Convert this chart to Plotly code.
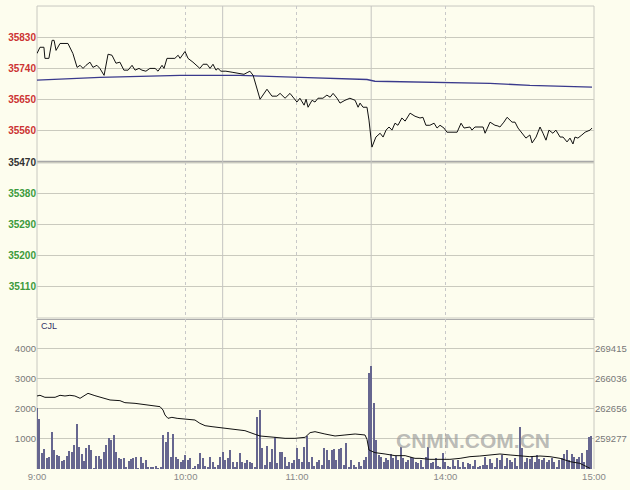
import plotly.graph_objects as go

# ---------------- data ----------------
prev_close = 35470

# session minutes since 9:00 (sessions 9:00-10:15, 10:30-11:30, 13:30-15:00 joined)
price_t = [0, 1.2, 2.8, 3.2, 4.8, 6.1, 6.9, 7.7, 9.3, 12.5, 14.5, 16.2, 17.4, 18.6, 19.8, 21.4, 22.6, 24.2,
           25.4, 27.1, 28.7, 30.3, 31.9, 33.5, 35.1, 36.8, 38.4, 39.6, 41.2, 42.4, 44.0, 45.6, 47.7, 48.9,
           50.5, 51.3, 52.5, 55.7, 57.0, 57.8, 59.8, 61.0, 63.0, 64.6, 65.8, 67.1, 68.7, 69.9, 71.1, 72.3,
           73.1, 74.3, 76.3, 78.8, 81.2, 83.6, 85.2, 86.0, 87.3, 90.1, 92.9, 94.9, 96.9, 98.2, 100.2, 102.2,
           105.0, 106.2, 107.9, 108.7, 109.5, 111.1, 112.3, 113.5, 115.5, 117.1, 118.4, 119.6, 121.2, 122.4,
           124.4, 126.4, 128.5, 129.7, 130.5, 131.7, 133.3, 134.1, 135.3, 136.9, 138.6, 139.8, 141.0, 142.2,
           143.4, 144.6, 145.8, 147.4, 148.7, 150.7, 152.7, 154.7, 155.9, 157.1, 158.7, 160.4, 161.6, 162.8,
           164.4, 165.6, 169.7, 171.3, 172.5, 174.9, 175.7, 176.9, 180.2, 181.0, 183.0, 185.0, 186.2, 187.0,
           188.6, 189.9, 191.9, 193.1, 194.3, 195.9, 197.5, 199.1, 200.0, 201.6, 203.2, 204.4, 205.6, 206.8,
           208.4, 209.6, 211.3, 212.5, 214.1, 215.3, 216.5, 217.3, 218.5, 220.1, 221.4, 223.4, 224.2]
price = [35783, 35801, 35801, 35769, 35769, 35821, 35821, 35792, 35812, 35812, 35783, 35743, 35749, 35740,
         35749, 35758, 35743, 35749, 35740, 35720, 35781, 35778, 35755, 35758, 35735, 35735, 35749, 35735,
         35740, 35735, 35732, 35740, 35740, 35732, 35749, 35740, 35769, 35769, 35778, 35769, 35789, 35769,
         35758, 35749, 35740, 35752, 35752, 35740, 35752, 35735, 35740, 35732, 35732, 35729, 35726, 35723,
         35729, 35732, 35720, 35651, 35680, 35660, 35660, 35668, 35654, 35668, 35643, 35654, 35634, 35651,
         35628, 35648, 35643, 35654, 35654, 35663, 35657, 35668, 35654, 35640, 35648, 35654, 35648, 35628,
         35640, 35628, 35628, 35591, 35513, 35542, 35553, 35542, 35562, 35571, 35562, 35582, 35576, 35597,
         35588, 35611, 35602, 35597, 35599, 35576, 35576, 35582, 35568, 35576, 35568, 35556, 35556, 35582,
         35568, 35571, 35562, 35571, 35571, 35553, 35585, 35576, 35574, 35571, 35585, 35599, 35585, 35585,
         35568, 35553, 35539, 35548, 35525, 35542, 35571, 35553, 35533, 35562, 35553, 35562, 35542, 35542,
         35528, 35539, 35522, 35542, 35539, 35548, 35556, 35562, 35568]

avg_t = [0, 25.4, 57.8, 82.0, 106.2, 126.4, 133.3, 136.5, 158.7, 183.0, 199.1, 211.3, 224.2]
avg_price = [35706, 35714, 35720, 35720, 35714, 35711, 35708, 35703, 35700, 35697, 35691, 35689, 35686]

# volume per minute (minute 0 .. 224)
vol = [2040, 1670, 545, 655, 355, 410, 1245, 633, 467, 433, 267, 300, 433, 610, 578, 800, 1500, 745, 490, 267,
       690, 800, 633, 45, 433, 433, 333, 555, 800, 1022, 967, 1133, 578, 378, 322, 355, 78, 255, 322, 355,
       410, 45, 390, 190, 300, 78, 55, 78, 100, 45, 78, 1133, 910, 1245, 410, 1167, 410, 345,
       244, 300, 467, 300, 378, 22, 100, 155, 544, 355, 100, 78, 411, 244, 78, 133, 411, 567, 300, 355,
       633, 244, 78, 244, 544, 244, 189, 300, 244, 211, 78, 1744, 1967, 689, 133, 767, 244, 656, 1078,
       189, 567, 567, 411, 100, 244, 189, 300, 689, 322, 244, 744, 1100, 244, 389, 100, 244, 300, 133,
       689, 633, 300, 633, 656, 300, 656, 689, 133, 878, 78, 300, 133, 78, 244, 100, 300, 389,
       3189, 3433, 2189, 967, 467, 411, 244, 355, 300, 500, 355, 433, 300, 744, 355, 244, 300, 411, 355,
       244, 189, 300, 78, 389, 744, 189, 244, 355, 100, 78, 544, 244, 100, 78, 300, 100, 300, 78, 244,
       78, 211, 167, 100, 300, 78, 100, 133, 411, 133, 322, 189, 78, 355, 300, 467, 100, 355, 300, 244,
       355, 100, 1411, 689, 244, 355, 322, 411, 244, 467, 322, 300, 355, 244, 300, 355, 244, 78, 300, 355,
       500, 633, 300, 500, 411, 322, 411, 544, 244, 633, 1056, 1100]

oi_t = [0, 1.2, 3.2, 5.3, 7.3, 9.3, 11.3, 13.3, 15.3, 17.4, 20.6, 23.4, 25.4, 27.5, 29.5, 33.5, 35.5, 39.6,
        41.6, 45.6, 49.7, 50.9, 51.7, 52.9, 54.5, 56.6, 59.8, 63.8, 65.8, 67.9, 70.7, 75.9, 80.0, 84.0, 88.1,
        90.1, 96.1, 100.2, 104.2, 108.3, 110.3, 112.3, 116.3, 120.4, 124.4, 128.5, 132.5, 133.3, 134.1, 136.5,
        140.6, 144.6, 148.7, 150.7, 152.7, 154.7, 158.7, 162.8, 166.8, 170.9, 174.9, 178.9, 183.0, 187.0,
        191.1, 195.1, 199.1, 203.2, 207.2, 211.3, 215.3, 219.3, 223.4]
oi = [264120, 264198, 263974, 263934, 263974, 264198, 264120, 264198, 264120, 263860, 264421, 264157, 263974,
      263860, 263670, 263596, 263369, 263295, 263221, 262994, 262920, 262545, 261981, 261605, 261717, 261605,
      261494, 261416, 261041, 260777, 260666, 260480, 260291, 260216, 259804, 259615, 259466, 259352, 259352,
      259466, 259990, 260101, 259841, 259615, 259727, 259841, 259727, 259240, 258037, 257740, 257587, 257402,
      257402, 257287, 257097, 257097, 256986, 256986, 256986, 257097, 257287, 257361, 257476, 257587, 257476,
      257361, 257287, 257361, 257287, 257097, 256726, 256536, 255972]

price_ticks = [35110, 35200, 35290, 35380, 35470, 35560, 35650, 35740, 35830]
vol_ticks = [1000, 2000, 3000, 4000]
oi_ticks = [259277, 262656, 266036, 269415]
time_ticks = [0, 60, 105, 165, 225]
time_labels = ["9:00", "10:00", "11:00", "14:00", "15:00"]
session_breaks = [75, 135]

# ---------------- styling ----------------
BG = "#FDFDEE"
RED = "#CC3333"
GREEN = "#3C9A3C"
DARK = "#333333"
GRID = "#CACABE"
FONT = "Liberation Sans, Arial, sans-serif"


def col(v):
    return RED if v > prev_close else (GREEN if v < prev_close else DARK)


left_text = [f'<span style="color:{col(v)}"><b>{v}</b></span>' for v in price_ticks]
right_text = []
for v in price_ticks:
    pct = (v - prev_close) / prev_close * 100
    s = "0.00%" if v == prev_close else f"{pct:+.2f}%"
    right_text.append(f'<span style="color:{col(v)}"><b>{s}</b></span>')

half = 450
p_range = [prev_close - half, prev_close + half]
step = (oi_ticks[-1] - oi_ticks[0]) / 3
oi_range = [oi_ticks[0] - step, oi_ticks[0] + 4 * step]

top_dom = [0.3254, 0.9978]
bot_dom = [0.0, 0.3233]

fig = go.Figure()
fig.add_trace(go.Scatter(x=avg_t, y=avg_price, mode="lines", line=dict(color="#3A3A8C", width=1.3),
                         xaxis="x", yaxis="y", hoverinfo="skip"))
fig.add_trace(go.Scatter(x=price_t, y=price, mode="lines", line=dict(color="#111111", width=1),
                         xaxis="x", yaxis="y"))
fig.add_trace(go.Bar(x=list(range(len(vol))), y=vol, width=0.45,
                     marker=dict(color="#66668F", line=dict(width=0)), xaxis="x2", yaxis="y3"))
fig.add_trace(go.Scatter(x=oi_t, y=oi, mode="lines", line=dict(color="#111111", width=1),
                         xaxis="x2", yaxis="y4"))

axis_common = dict(ticks="", zeroline=False, showline=False, automargin=False)

fig.update_layout(
    width=630, height=490,
    margin=dict(l=37, r=36, t=5, b=21),
    paper_bgcolor=BG, plot_bgcolor=BG,
    showlegend=False, bargap=0,
    font=dict(family=FONT, size=9.5, color="#777777"),
    xaxis=dict(domain=[0, 1], range=[0, 225], anchor="y", tickvals=time_ticks, showticklabels=False,
               showgrid=True, gridcolor="#C8C8C8", griddash="dot", gridwidth=1, **axis_common),
    xaxis2=dict(domain=[0, 1], range=[0, 225], anchor="y3", matches="x", tickvals=time_ticks,
                ticktext=time_labels, showgrid=True, gridcolor="#C8C8C8", griddash="dot", gridwidth=1,
                tickfont=dict(size=9.5, color="#888888"), **axis_common),
    yaxis=dict(domain=top_dom, range=p_range, anchor="x", tickvals=price_ticks, ticktext=left_text,
               showgrid=True, gridcolor=GRID, gridwidth=1, tickfont=dict(size=10), **axis_common),
    yaxis2=dict(overlaying="y", side="right", range=p_range, anchor="x", tickvals=price_ticks,
                ticktext=right_text, showgrid=False, tickfont=dict(size=9.5), **axis_common),
    yaxis3=dict(domain=bot_dom, range=[0, 5000], anchor="x2", tickvals=vol_ticks, showgrid=True,
                gridcolor=GRID, gridwidth=1, tickfont=dict(size=9.5, color="#777777"), **axis_common),
    yaxis4=dict(overlaying="y3", side="right", range=oi_range, anchor="x2", tickvals=oi_ticks,
                ticktext=[str(v) for v in oi_ticks],
                showgrid=False, tickfont=dict(size=9.5, color="#777777"), **axis_common),
)

shapes = []
# session break vertical lines
for sb in session_breaks:
    shapes.append(dict(type="line", xref="x", yref="y", x0=sb, x1=sb, y0=p_range[0], y1=p_range[1],
                       line=dict(color="#C4C4C0", width=1), layer="between"))
    shapes.append(dict(type="line", xref="x2", yref="y3", x0=sb, x1=sb, y0=0, y1=5000,
                       line=dict(color="#C4C4C0", width=1), layer="between"))
# previous close line
shapes.append(dict(type="line", xref="paper", yref="y", x0=0, x1=1, y0=prev_close, y1=prev_close,
                   line=dict(color="#A8A8A8", width=2.5), layer="between"))
# panel borders
shapes.append(dict(type="rect", xref="paper", yref="paper", x0=0, x1=1, y0=top_dom[0], y1=top_dom[1],
                   line=dict(color="#C8C8C0", width=1), layer="between"))
shapes.append(dict(type="line", xref="paper", yref="paper", x0=0, x1=0, y0=bot_dom[0], y1=bot_dom[1],
                   line=dict(color="#C8C8C0", width=1), layer="between"))
shapes.append(dict(type="line", xref="paper", yref="paper", x0=1, x1=1, y0=bot_dom[0], y1=bot_dom[1],
                   line=dict(color="#C8C8C0", width=1), layer="between"))
shapes.append(dict(type="line", xref="paper", yref="y3", x0=0, x1=1, y0=5000, y1=5000,
                   line=dict(color="#ABABAB", width=2), layer="between"))
fig.update_layout(shapes=shapes)

fig.add_annotation(text="CJL", xref="paper", yref="paper", x=0.003, y=0.308, xanchor="left",
                   yanchor="middle", showarrow=False, font=dict(family=FONT, size=9, color="#333366"))
fig.add_annotation(text="<b>CNMN.COM.CN</b>", xref="paper", yref="paper", x=0.7828, y=0.0625,
                   xanchor="center", yanchor="middle", showarrow=False,
                   font=dict(family=FONT, size=21, color="rgba(150,150,150,0.65)"))

fig.write_html("out.html", config={"displayModeBar": False},
               post_script="document.body.style.margin='0';document.body.style.background='" + BG + "';")
